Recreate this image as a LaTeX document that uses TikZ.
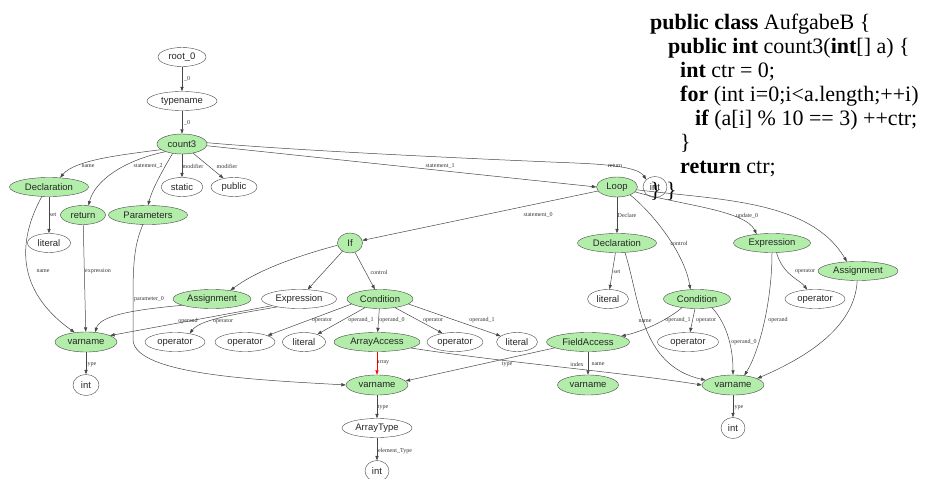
\documentclass[tikz,border=0pt]{standalone}
\usepackage{fontspec}
\setmainfont{Liberation Serif}
\setsansfont{Liberation Sans}
\usetikzlibrary{shapes.geometric}
\usetikzlibrary{arrows.meta}
\definecolor{astgreen}{RGB}{178,238,170}
\newcommand*{\nodefont}{\sffamily\fontsize{9.5}{11}\selectfont}
\newcommand*{\edgefont}{\fontsize{6}{7}\selectfont}
\newcommand*{\codefont}{\fontsize{22}{24}\selectfont}

\begin{document}
\begin{tikzpicture}[x=1pt, y=-1pt,
    wnode/.style={ellipse, draw=black!72, inner sep=0pt, minimum height=19pt, font=\nodefont, text=black!85},
    gnode/.style={wnode, fill=astgreen},
    link/.style={draw=black!72, line width=0.5pt, -{Triangle[length=4.5pt, width=3.2pt]}},
    lbl/.style={font=\edgefont, text=black!80, inner sep=0pt},
    codeline/.style={anchor=base west, inner sep=0pt, font=\codefont}]
    \useasboundingbox (0,0) rectangle (932,479);

    % source code
    \node[codeline] (c1) at (650,29) {\textbf{public class} AufgabeB \{};
    \node[codeline] (c2) at (668,53) {\textbf{public int} count3(\textbf{int}[] a) \{};
    \node[codeline] (c3) at (680,77) {\textbf{int} ctr = 0;};
    \node[codeline] (c4) at (680,101) {\textbf{for} (int i=0;i<a.length;++i)};
    \node[codeline] (c5) at (695,125) {\textbf{if} (a[i] \% 10 == 3) ++ctr;};
    \node[codeline] (c6) at (680,149) {\}};
    \node[codeline] (c7) at (680,173) {\textbf{return} ctr;};

    % method header
    \node[wnode, minimum width=48] (root) at (182,57) {root\_0};
    \node[wnode, minimum width=70] (typename) at (182,101) {typename};
    \node[gnode, minimum width=50, minimum height=20] (count3) at (182,144) {count3};
    \node[gnode, minimum width=79] (decl) at (49,187) {Declaration};
    \node[wnode, minimum width=42] (static) at (182,187) {static};
    \node[wnode, minimum width=46] (public) at (234,187) {public};
    \node[gnode, minimum width=45] (ret) at (83,215) {return};
    \node[gnode, minimum width=79] (params) at (148,215) {Parameters};
    \node[wnode, minimum width=43] (litA) at (49,243) {literal};
    % loop
    \node[gnode, minimum width=41, minimum height=20] (loop) at (617,187) {Loop};
    \node[wnode, minimum width=24, minimum height=21] (intR) at (655,187) {int};
    \node[gnode, minimum width=25, minimum height=20] (ifn) at (350,243) {If};
    \node[gnode, minimum width=79] (declB) at (617,243) {Declaration};
    \node[gnode, minimum width=77] (exprB) at (772,243) {Expression};
    \node[gnode, minimum width=80] (assB) at (858,271) {Assignment};
    % if body and conditions
    \node[gnode, minimum width=78] (assA) at (212,299) {Assignment};
    \node[wnode, minimum width=75] (exprA) at (299,299) {Expression};
    \node[gnode, minimum width=66] (condA) at (380,299) {Condition};
    \node[wnode, minimum width=41] (litB) at (608,299) {literal};
    \node[gnode, minimum width=67] (condB) at (697,299) {Condition};
    \node[wnode, minimum width=60] (opE) at (815,299) {operator};
    % operands
    \node[gnode, minimum width=62, minimum height=20] (varA) at (86,342) {varname};
    \node[wnode, minimum width=60] (opA) at (175,342) {operator};
    \node[wnode, minimum width=60] (opB) at (245,342) {operator};
    \node[wnode, minimum width=43] (litC) at (304,342) {literal};
    \node[gnode, minimum width=86] (arr) at (377,342) {ArrayAccess};
    \node[wnode, minimum width=56] (opC) at (455,342) {operator};
    \node[wnode, minimum width=41] (litD) at (517,342) {literal};
    \node[gnode, minimum width=83] (field) at (588,342) {FieldAccess};
    \node[wnode, minimum width=61] (opD) at (688,342) {operator};
    % variables and types
    \node[wnode, minimum width=26, minimum height=21] (intA) at (86,385) {int};
    \node[gnode, minimum width=62, minimum height=20] (varB) at (377,385) {varname};
    \node[gnode, minimum width=61, minimum height=20] (varC) at (588,385) {varname};
    \node[gnode, minimum width=62, minimum height=20] (varD) at (733,385) {varname};
    \node[wnode, minimum width=70] (arrT) at (377,428) {ArrayType};
    \node[wnode, minimum width=24, minimum height=21] (intB) at (377,471) {int};
    \node[wnode, minimum width=24, minimum height=21] (intC) at (733,428) {int};

    % leftover closing braces
    \node[codeline] (c8) at (650,197) {\}};
    \node[codeline] (c9) at (666,197) {\}};

    % header edges
    \draw[link] (root) -- (typename) node[lbl] at (187,79) {\_0};
    \draw[link] (typename) -- (count3) node[lbl] at (187,123) {\_0};
    \draw[link] (count3.195) .. controls (120,155) and (75,160) .. (decl.40) node[lbl] at (88,166) {name};
    \draw[link] (count3.205) .. controls (125,160) and (95,180) .. (ret.60) node[lbl] at (148,166) {statement\_2};
    \draw[link] (count3.225) .. controls (160,175) and (152,190) .. (params.north);
    \draw[link] (count3) -- (static) node[lbl] at (193,166) {modifier};
    \draw[link] (count3) -- (public) node[lbl] at (227,166) {modifier};
    \draw[link] (count3.-4) -- (loop.west) node[lbl] at (440,166) {statement\_1};
    \draw[link] (count3.3) .. controls (300,151) and (500,160) .. (575,163) .. controls (625,165) and (640,170) .. (intR.140) node[lbl] at (615,166) {return};

    % left declarations
    \draw[link] (decl) -- (litA) node[lbl] at (53,215) {set};
    \draw[link] (decl.233) .. controls (18,240) and (15,290) .. (varA.140) node[lbl] at (43,271) {name};
    \draw[link] (ret) -- (varA) node[lbl] at (98,271) {expression};
    \draw[link] (params.242) .. controls (134,245) and (133,265) .. (133,300) -- (133,340) .. controls (135,375) and (260,380) .. (varB.west) node[lbl] at (149,299) {parameter\_0};

    % loop edges
    \draw[link] (loop) -- (ifn) node[lbl] at (538,215) {statement\_0};
    \draw[link] (loop) -- (declB) node[lbl] at (627,215) {Declare};
    \draw[link] (loop.-31) .. controls (655,215) and (685,255) .. (condB.125) node[lbl] at (679,243) {control};
    \draw[link] (loop.-15) .. controls (680,205) and (745,210) .. (exprB.150) node[lbl] at (747,216) {update\_0};
    \draw[link] (loop.-8) .. controls (720,200) and (810,200) .. (assB.140);

    % if edges
    \draw[link] (ifn.190) .. controls (290,258) and (255,272) .. (assA.25);
    \draw[link] (ifn) -- (exprA);
    \draw[link] (ifn) -- (condA) node[lbl] at (379,272) {control};
    \draw[link] (assA.192) .. controls (130,310) and (100,316) .. (varA.47) node[lbl] at (188,321) {operand};
    \draw[link] (exprA.194) -- (varA.15);
    \draw[link] (exprA.200) .. controls (230,315) and (200,320) .. (opA.30) node[lbl] at (223,321) {operator};
    \draw[link] (condA.190) -- (opB.16) node[lbl] at (322,320) {operator};
    \draw[link] (condA.210) -- (litC.30) node[lbl] at (361,320) {operand\_1};
    \draw[link] (condA) -- (arr) node[lbl] at (392,320) {operand\_0};
    \draw[link] (condA.-30) -- (opC.145) node[lbl] at (433,320) {operator};
    \draw[link] (condA.-10) -- (litD.160) node[lbl] at (482,320) {operand\_1};

    % array and field access
    \draw[link, draw=red, -{Triangle[length=4.5pt, width=3.2pt, fill=red]}] (arr) -- (varB) node[lbl] at (383,363) {array};
    \draw[link] (arr.-10) .. controls (500,362) and (620,372) .. (varD.180) node[lbl] at (577,364) {index};
    \draw[link] (field.190) -- (varB.8) node[lbl] at (507,364) {type};
    \draw[link] (field) -- (varC) node[lbl] at (598,364) {name};

    % right declarations and conditions
    \draw[link] (declB) -- (litB) node[lbl] at (617,272) {set};
    \draw[link] (declB.-50) .. controls (640,300) and (640,365) .. (varD.170) node[lbl] at (645,321) {name};
    \draw[link] (condB.210) .. controls (665,322) and (640,332) .. (field.10) node[lbl] at (678,320) {operand\_1};
    \draw[link] (condB) -- (opD) node[lbl] at (706,320) {operator};
    \draw[link] (condB.-30) .. controls (728,325) and (733,350) .. (varD.north) node[lbl] at (744,342) {operand\_0};
    \draw[link] (exprB.-65) .. controls (783,275) and (800,280) .. (opE.130) node[lbl] at (805,271) {operator};
    \draw[link] (exprB.south) .. controls (772,300) and (760,350) .. (varD.40) node[lbl] at (778,320) {operand};
    \draw[link] (assB.-95) .. controls (855,330) and (800,360) .. (varD.15);

    % types
    \draw[link] (varA) -- (intA) node[lbl] at (91,364) {type};
    \draw[link] (varB) -- (arrT) node[lbl] at (383,407) {type};
    \draw[link] (arrT) -- (intB) node[lbl] at (395,451) {element\_Type};
    \draw[link] (varD) -- (intC) node[lbl] at (738,407) {type};
\end{tikzpicture}
\end{document}
